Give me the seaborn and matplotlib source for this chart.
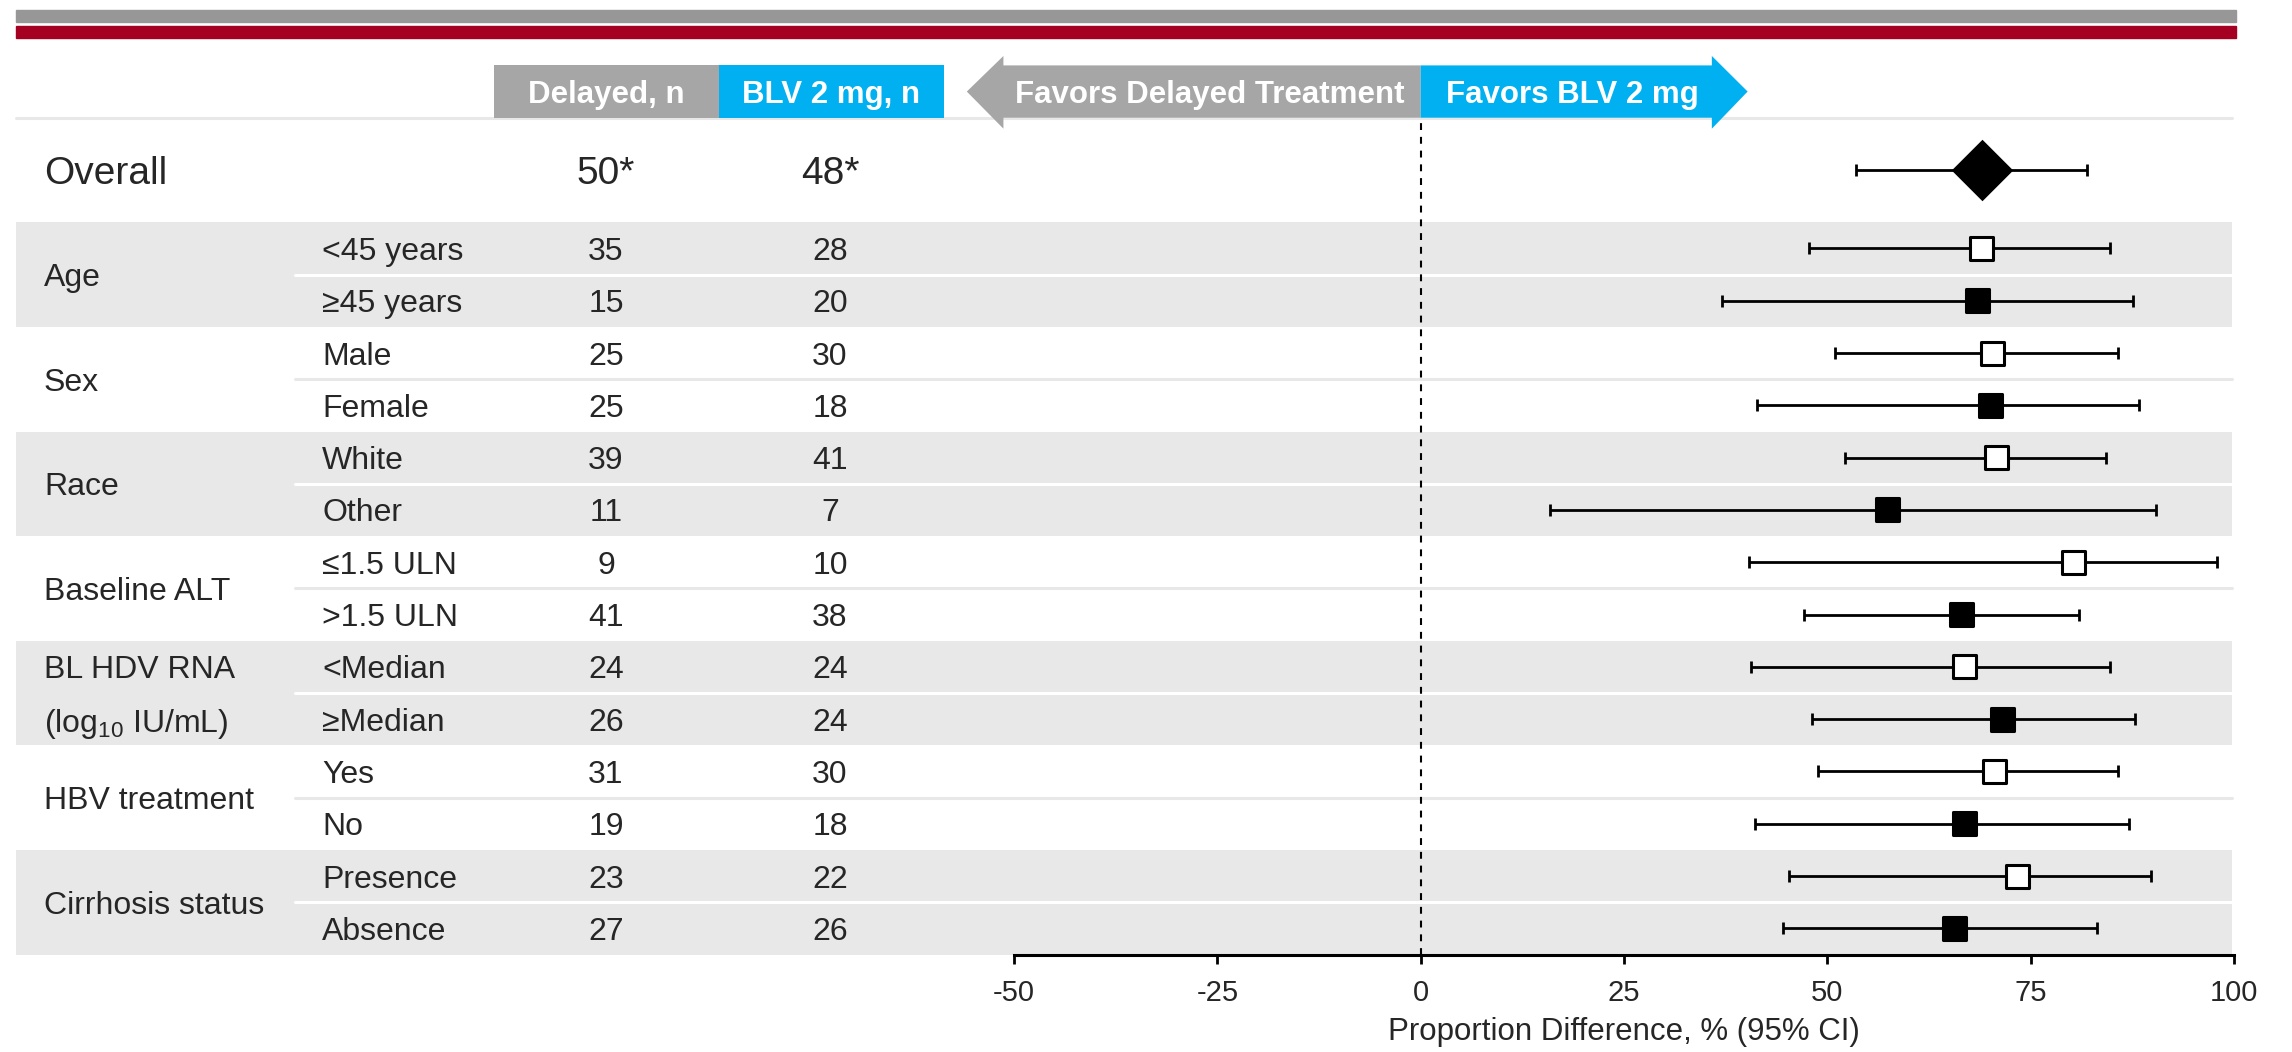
import numpy as np
import pandas as pd
import matplotlib.pyplot as plt
import matplotlib.transforms as mtransforms
from matplotlib.patches import Rectangle, Polygon
import seaborn as sns

sns.set_theme(style="white")
plt.rcParams['font.family'] = ['Liberation Sans', 'DejaVu Sans']
plt.rcParams['mathtext.fontset'] = 'custom'
plt.rcParams['mathtext.rm'] = 'Liberation Sans'

# ---- data ----
groups = ['Age', 'Sex', 'Race', 'Baseline ALT', 'BL HDV RNA\n(log$_{10}$ IU/mL)', 'HBV treatment', 'Cirrhosis status']
subgroups = ['<45 years', '≥45 years', 'Male', 'Female', 'White', 'Other', '≤1.5 ULN', '>1.5 ULN',
             '<Median', '≥Median', 'Yes', 'No', 'Presence', 'Absence']
n_delayed = [35, 15, 25, 25, 39, 11, 9, 41, 24, 26, 31, 19, 23, 27]
n_blv = [28, 20, 30, 18, 41, 7, 10, 38, 24, 24, 30, 18, 22, 26]
est = [68.9, 68.5, 70.3, 70.1, 70.8, 57.4, 80.3, 66.5, 66.9, 71.5, 70.5, 66.9, 73.4, 65.6]
lo = [47.8, 37.1, 50.9, 41.3, 52.2, 15.9, 40.4, 47.1, 40.6, 48.1, 48.9, 41.1, 45.3, 44.5]
hi = [84.7, 87.6, 85.7, 88.3, 84.3, 90.4, 97.9, 80.9, 84.7, 87.8, 85.7, 87.1, 89.8, 83.1]
overall_n = ['50*', '48*']
overall_est, overall_lo, overall_hi = 69.0, 53.5, 81.9
xticks = [-50, -25, 0, 25, 50, 75, 100]

df = pd.DataFrame({'sub': subgroups, 'n1': n_delayed, 'n2': n_blv, 'est': est, 'lo': lo, 'hi': hi})
df['ypos'] = np.arange(len(df))
df['fill'] = np.where(df.index % 2 == 0, 'open', 'filled')
overall_y = -1.5

# ---- colours ----
band_grey = '#e8e8e8'
head_grey = '#a6a6a6'
blue = '#00b0f0'
top_grey = '#979797'
top_red = '#a50021'

W, H = 2292, 1052
fig = plt.figure(figsize=(W / 100, H / 100), dpi=100)
ax = fig.add_axes([1014 / W, 1 - 954.5 / H, (2234 - 1014) / W, (954.5 - 117.7) / H])
ax.set_facecolor('none')
ax.set_xlim(-50, 100)
ax.set_ylim(13.5, -2.5)
trans = mtransforms.blended_transform_factory(fig.transFigure, ax.transData)
fx = lambda p: p / W
VA = 'center_baseline'

# top decorative bars
fig.patches.append(Rectangle((fx(16), 1 - 22 / H), fx(2236 - 16), 12 / H, transform=fig.transFigure, color=top_grey, zorder=0))
fig.patches.append(Rectangle((fx(16), 1 - 38 / H), fx(2236 - 16), 12 / H, transform=fig.transFigure, color=top_red, zorder=0))

# row bands + separators + group labels
for g in range(len(groups)):
    y0 = 2 * g - 0.5
    if g % 2 == 0:
        ax.add_patch(Rectangle((fx(16), y0), fx(2232 - 16), 2, transform=trans, color=band_grey, lw=0, zorder=0, clip_on=False))
        sep = 'white'
    else:
        sep = band_grey
    ax.plot([fx(295), fx(2232)], [2 * g + 0.5] * 2, transform=trans, color=sep, lw=2.2, zorder=0.5, clip_on=False)
    lines = groups[g].split('\n')
    if len(lines) == 1:
        ax.text(fx(44), 2 * g + 0.5, lines[0], transform=trans, ha='left', va=VA, fontsize=23)
    else:
        for k, ln in enumerate(lines):
            ax.text(fx(44), 2 * g + k, ln, transform=trans, ha='left', va=VA, fontsize=23)
ax.plot([fx(16), fx(2232)], [-2.5, -2.5], transform=trans, color=band_grey, lw=2.2, zorder=0.5, clip_on=False)

# table text
for _, r in df.iterrows():
    ax.text(fx(322), r.ypos, r['sub'], transform=trans, ha='left', va=VA, fontsize=23)
    ax.text(fx(606), r.ypos, str(r.n1), transform=trans, ha='center', va=VA, fontsize=23)
    ax.text(fx(830), r.ypos, str(r.n2), transform=trans, ha='center', va=VA, fontsize=23)
ax.text(fx(44), overall_y, 'Overall', transform=trans, ha='left', va=VA, fontsize=28)
ax.text(fx(606), overall_y, overall_n[0], transform=trans, ha='center', va=VA, fontsize=28)
ax.text(fx(830), overall_y, overall_n[1], transform=trans, ha='center', va=VA, fontsize=28)

# column headers
ax.add_patch(Rectangle((fx(494), -3.5), fx(225), 1, transform=trans, color=head_grey, lw=0, clip_on=False))
ax.add_patch(Rectangle((fx(719), -3.5), fx(225), 1, transform=trans, color=blue, lw=0, clip_on=False))
ax.text(fx(606.5), -3.0, 'Delayed, n', transform=trans, ha='center', va=VA, fontsize=22.5, color='white', fontweight='bold')
ax.text(fx(831.5), -3.0, 'BLV 2 mg, n', transform=trans, ha='center', va=VA, fontsize=22.5, color='white', fontweight='bold')

# favours arrow
ax.add_patch(Polygon([(0, -3.5), (-51.3, -3.5), (-51.3, -3.68), (-55.8, -3.0), (-51.3, -2.29), (-51.3, -2.5), (0, -2.5)],
                     closed=True, color=head_grey, lw=0, clip_on=False))
ax.add_patch(Polygon([(0, -3.5), (35.8, -3.5), (35.8, -3.68), (40.2, -3.0), (35.8, -2.29), (35.8, -2.5), (0, -2.5)],
                     closed=True, color=blue, lw=0, clip_on=False))
ax.text(-25.9, -3.0, 'Favors Delayed Treatment', ha='center', va=VA, fontsize=22.5, color='white', fontweight='bold')
ax.text(18.6, -3.0, 'Favors BLV 2 mg', ha='center', va=VA, fontsize=22.5, color='white', fontweight='bold')

# reference line
ax.axvline(0, color='black', lw=1.5, ls=(0, (3.3, 3.3)), zorder=1)

# CIs and point estimates
ax.errorbar(df.est, df.ypos, xerr=[df.est - df.lo, df.hi - df.est], fmt='none', ecolor='black',
            elinewidth=2, capsize=4.5, capthick=2, zorder=2)
ax.errorbar([overall_est], [overall_y], xerr=[[overall_est - overall_lo], [overall_hi - overall_est]], fmt='none',
            ecolor='black', elinewidth=2, capsize=4.5, capthick=2, zorder=2)
sns.scatterplot(data=df, x='est', y='ypos', hue='fill', palette={'open': 'white', 'filled': 'black'},
                marker='s', s=275, edgecolor='black', linewidth=2.2, legend=False, ax=ax, zorder=3)
sns.scatterplot(x=[overall_est], y=[overall_y], marker='D', s=980, color='black', linewidth=0, ax=ax, zorder=3)

# axis styling
for s in ['left', 'right', 'top']:
    ax.spines[s].set_visible(False)
ax.spines['bottom'].set_linewidth(2.2)
ax.spines['bottom'].set_color('black')
ax.set_yticks([])
ax.set_ylabel('')
ax.set_xticks(xticks)
ax.set_xticklabels([str(t) for t in xticks])
ax.tick_params(axis='x', direction='out', length=6.5, width=2, color='black', labelsize=21, pad=11, bottom=True)
ax.set_xlabel('Proportion Difference, % (95% CI)', fontsize=22.5, labelpad=7)

fig.savefig('out.png', dpi=100)
